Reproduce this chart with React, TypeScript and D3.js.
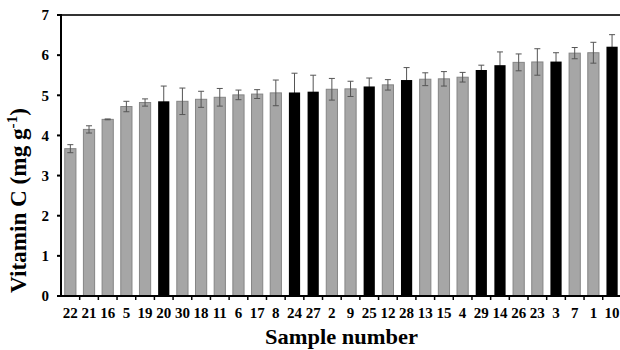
import React, { useLayoutEffect, useRef, useState } from "react";
import * as d3 from "d3";

const samples = ["22","21","16","5","19","20","30","18","11","6","17","8","24","27","2","9","25","12","28","13","15","4","29","14","26","23","3","7","1","10"];
const vitaminC = [3.67,4.15,4.40,4.72,4.82,4.85,4.85,4.90,4.95,5.01,5.03,5.06,5.07,5.09,5.15,5.16,5.22,5.26,5.38,5.40,5.41,5.45,5.63,5.75,5.82,5.83,5.84,6.05,6.06,6.21];
const errors = [0.10,0.09,0.01,0.13,0.09,0.38,0.33,0.20,0.22,0.12,0.11,0.32,0.48,0.41,0.27,0.19,0.21,0.13,0.31,0.16,0.18,0.12,0.12,0.33,0.21,0.33,0.22,0.14,0.26,0.30];
const highlighted = ["20","24","27","25","28","29","14","3","10"];
const yTicks = [0,1,2,3,4,5,6,7];

const W = 620, H = 350;
const left = 61, right = 621.4, top = 15, bottom = 296;
const FONT = "'Liberation Serif', 'Times New Roman', serif";

export default function App() {
  const yTitleRef = useRef<SVGTextElement>(null);
  const [ySx, setYSx] = useState(1);
  useLayoutEffect(() => {
    if (yTitleRef.current) {
      const w = yTitleRef.current.getBBox().width;
      if (w > 0) setYSx(185 / w);
    }
  }, []);

  const x = d3.scaleBand<string>().domain(samples).range([left, right]).paddingInner(0.4).paddingOuter(0.2);
  const y = d3.scaleLinear().domain([0, 7]).range([bottom, top]);
  const step = x.step();
  const bw = x.bandwidth();
  const data = samples.map((s, i) => ({ s, v: vitaminC[i], e: errors[i], black: highlighted.includes(s) }));
  const cap = 3;

  return (
    <svg width={W} height={H} style={{ position: "absolute", left: 0, top: 0, display: "block", background: "#fff" }}>
      {data.filter(d => !d.black).map(d => (
        <rect key={"g" + d.s} x={x(d.s)!} y={y(d.v)} width={bw} height={bottom - y(d.v)} fill="#a6a6a6" stroke="#858585" strokeWidth={1} />
      ))}
      {data.map(d => {
        const cx = x(d.s)! + bw / 2;
        return (
          <g key={"e" + d.s} stroke="#555" strokeWidth={1}>
            <line x1={cx} x2={cx} y1={y(d.v - d.e)} y2={y(d.v + d.e)} />
            <line x1={cx - cap} x2={cx + cap} y1={y(d.v + d.e)} y2={y(d.v + d.e)} />
            <line x1={cx - cap} x2={cx + cap} y1={y(d.v - d.e)} y2={y(d.v - d.e)} />
          </g>
        );
      })}
      {data.filter(d => d.black).map(d => (
        <rect key={"b" + d.s} x={x(d.s)!} y={y(d.v)} width={bw} height={bottom - y(d.v)} fill="#000" />
      ))}
      <line x1={left} x2={W} y1={y(7)} y2={y(7)} stroke="#333" strokeWidth={2} />
      <line x1={left} x2={left} y1={y(7) - 1} y2={bottom + 1} stroke="#000" strokeWidth={2} />
      {yTicks.map(t => (
        <g key={"yt" + t}>
          <line x1={left - 4} x2={left} y1={y(t)} y2={y(t)} stroke="#000" strokeWidth={2} />
          <text x={left - 12} y={y(t)} dy="0.35em" textAnchor="end" fontFamily={FONT} fontWeight="bold" fontSize={15}>{t}</text>
        </g>
      ))}
      <line x1={left} x2={W} y1={bottom} y2={bottom} stroke="#000" strokeWidth={2} />
      {samples.map((s, i) => (
        <line key={"xt" + i} x1={left + (i + 1) * step} x2={left + (i + 1) * step} y1={bottom} y2={bottom + 4} stroke="#000" strokeWidth={1.5} />
      ))}
      {samples.map(s => (
        <text key={"xl" + s} x={x(s)! + bw / 2} y={318} textAnchor="middle" fontFamily={FONT} fontWeight="bold" fontSize={15}>{s}</text>
      ))}
      <text x={341.5} y={344} textAnchor="middle" fontFamily={FONT} fontWeight="bold" fontSize={21} textLength={153} lengthAdjust="spacingAndGlyphs">Sample number</text>
      <g transform={`translate(26,200.5) rotate(-90) scale(${ySx},1)`}>
        <text ref={yTitleRef} textAnchor="middle" fontFamily={FONT} fontWeight="bold" fontSize={23}>
          Vitamin C (mg g<tspan dy={-9} fontSize={15}>-1</tspan><tspan dy={9}>)</tspan>
        </text>
      </g>
    </svg>
  );
}
